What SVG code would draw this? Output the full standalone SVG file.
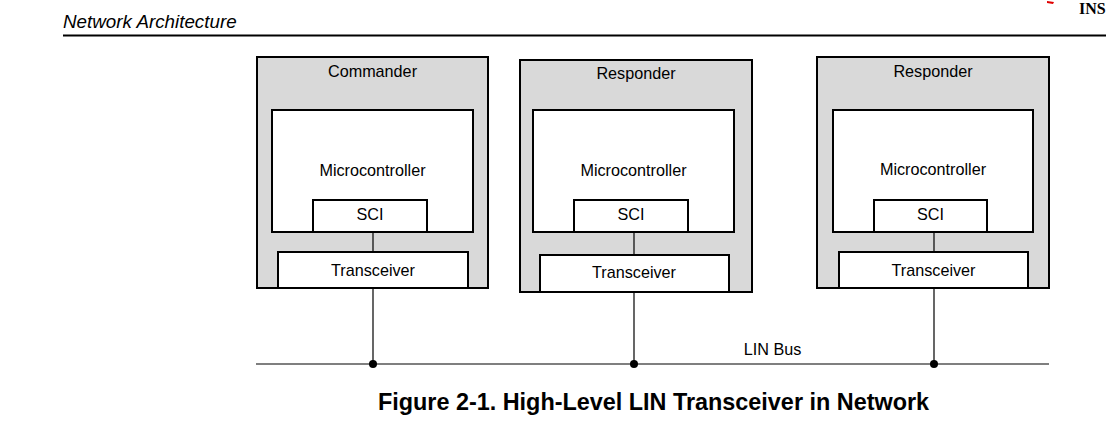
<svg xmlns="http://www.w3.org/2000/svg" width="1106" height="431" viewBox="0 0 1106 431">
<style>
.outer{fill:#d9d9d9;stroke:#000;stroke-width:2}
.inner{fill:#fff;stroke:#000;stroke-width:2}
.lbl{font-family:"Liberation Sans",Arial,sans-serif;font-size:16.2px;fill:#000;text-anchor:middle}
.wire{stroke:#000;stroke-width:1.2;fill:none}
.dot{fill:#000}
</style>
<rect width="1106" height="431" fill="#fff"/>
<g id="header">
<text x="63" y="28" font-family="Liberation Sans,Arial,sans-serif" font-style="italic" font-size="18.8" fill="#000">Network Architecture</text>
<line x1="63" y1="35.5" x2="1106" y2="35.5" stroke="#000" stroke-width="2.2"/>
<path d="M1047 1 L1054 2 L1053 4 L1047 3 Z" fill="#e00000"/>
<text x="1079" y="14" font-family="Liberation Serif,serif" font-weight="bold" font-size="16" fill="#000">INS</text>
</g>
<g id="commander">
<rect class="outer" x="257" y="57" width="231" height="231"/>
<text class="lbl" x="372.5" y="77">Commander</text>
<rect class="inner" x="272" y="110" width="201" height="122"/>
<text class="lbl" x="372.5" y="176">Microcontroller</text>
<rect class="inner" x="313" y="200" width="114" height="32"/>
<text class="lbl" x="370" y="220">SCI</text>
<rect class="inner" x="278" y="252" width="190" height="36"/>
<text class="lbl" x="373" y="276">Transceiver</text>
</g>
<g id="responder1">
<rect class="outer" x="520" y="60" width="232" height="232"/>
<text class="lbl" x="636" y="79">Responder</text>
<rect class="inner" x="533" y="110" width="201" height="122"/>
<text class="lbl" x="633.5" y="176">Microcontroller</text>
<rect class="inner" x="574" y="200" width="114" height="32"/>
<text class="lbl" x="631" y="220">SCI</text>
<rect class="inner" x="540" y="255" width="189" height="37"/>
<text class="lbl" x="634" y="278">Transceiver</text>
</g>
<g id="responder2">
<rect class="outer" x="817" y="57" width="232" height="231"/>
<text class="lbl" x="933" y="77">Responder</text>
<rect class="inner" x="833" y="110" width="200" height="122"/>
<text class="lbl" x="933" y="175">Microcontroller</text>
<rect class="inner" x="874" y="200" width="113" height="32"/>
<text class="lbl" x="930.5" y="220">SCI</text>
<rect class="inner" x="839" y="252" width="189" height="36"/>
<text class="lbl" x="933.5" y="276">Transceiver</text>
</g>
<g id="connectors">
<line class="wire" x1="373" y1="232" x2="373" y2="252"/>
<line class="wire" x1="373" y1="288" x2="373" y2="364"/>
<line class="wire" x1="634" y1="232" x2="634" y2="255"/>
<line class="wire" x1="634" y1="292" x2="634" y2="364"/>
<line class="wire" x1="934" y1="232" x2="934" y2="252"/>
<line class="wire" x1="934" y1="288" x2="934" y2="364"/>
<line class="wire" x1="256" y1="364" x2="1049" y2="364"/>
<circle class="dot" cx="373" cy="364" r="4"/>
<circle class="dot" cx="634" cy="364" r="4"/>
<circle class="dot" cx="934" cy="364" r="4"/>
<text class="lbl" x="772.5" y="355">LIN Bus</text>
</g>
<g id="caption">
<text x="653.5" y="410" font-family="Liberation Sans,Arial,sans-serif" font-weight="bold" font-size="23.4" text-anchor="middle" fill="#000">Figure 2-1. High-Level LIN Transceiver in Network</text>
</g>
</svg>
